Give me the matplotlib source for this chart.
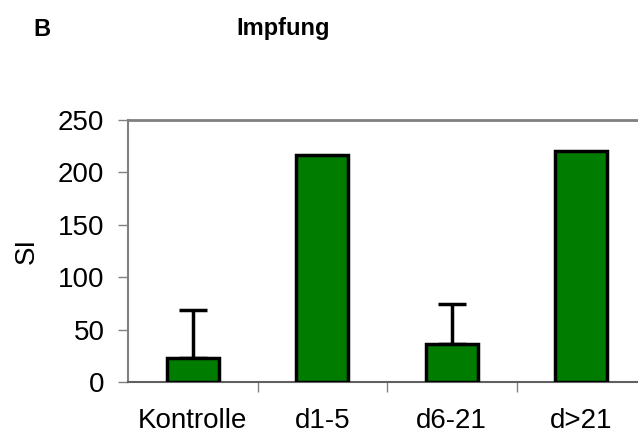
import matplotlib.pyplot as plt
import numpy as np

plt.rcParams['font.family'] = ['Liberation Sans', 'DejaVu Sans']

categories = ['Kontrolle', 'd1-5', 'd6-21', 'd>21']
values = [23, 217, 36, 220]
errors = [46, 0, 38, 0]

fig = plt.figure(figsize=(6.38, 4.37), dpi=100)
ax = fig.add_axes([128/638, 1-382/437, 518/638, 262/437])

x = np.arange(len(categories))
ax.bar(x, values, width=0.4, color='#007c00', edgecolor='black', linewidth=2.5, zorder=3)
err_x = [i for i in x if errors[i] > 0]
ax.errorbar(err_x, [values[i] for i in err_x], yerr=[[0]*len(err_x), [errors[i] for i in err_x]],
            fmt='none', ecolor='black', elinewidth=2.5, capsize=10, capthick=2.5, zorder=2)

ax.set_xlim(-0.5, 3.5)
ax.set_ylim(0, 250)
ax.set_yticks(range(0, 251, 50))
ax.set_xticks(x)
ax.set_xticklabels(categories)
ax.set_xticks([0.5, 1.5, 2.5], minor=True)
ax.tick_params(axis='x', which='major', length=0, pad=19, labelsize=20)
ax.tick_params(axis='x', which='minor', length=7, width=1, color='#808080', direction='out')
ax.tick_params(axis='y', length=7, width=1, color='#808080', labelsize=20, pad=10)

for s in ['left', 'bottom', 'top']:
    ax.spines[s].set_color('#808080')
ax.spines['left'].set_linewidth(1.5)
ax.spines['bottom'].set_linewidth(1.5)
ax.spines['bottom'].set_color('#606060')
ax.spines['top'].set_linewidth(2)
ax.spines['right'].set_visible(False)

ax.set_ylabel('SI', fontsize=20)
ax.yaxis.set_label_coords(-88/518, 0.5)

fig.text(33/638, 1-30/437, 'B', fontsize=17, fontweight='bold', va='center')
fig.text(283/638, 1-28/437, 'Impfung', fontsize=17, fontweight='bold', va='center', ha='center')

fig.savefig('out.png', dpi=100)
